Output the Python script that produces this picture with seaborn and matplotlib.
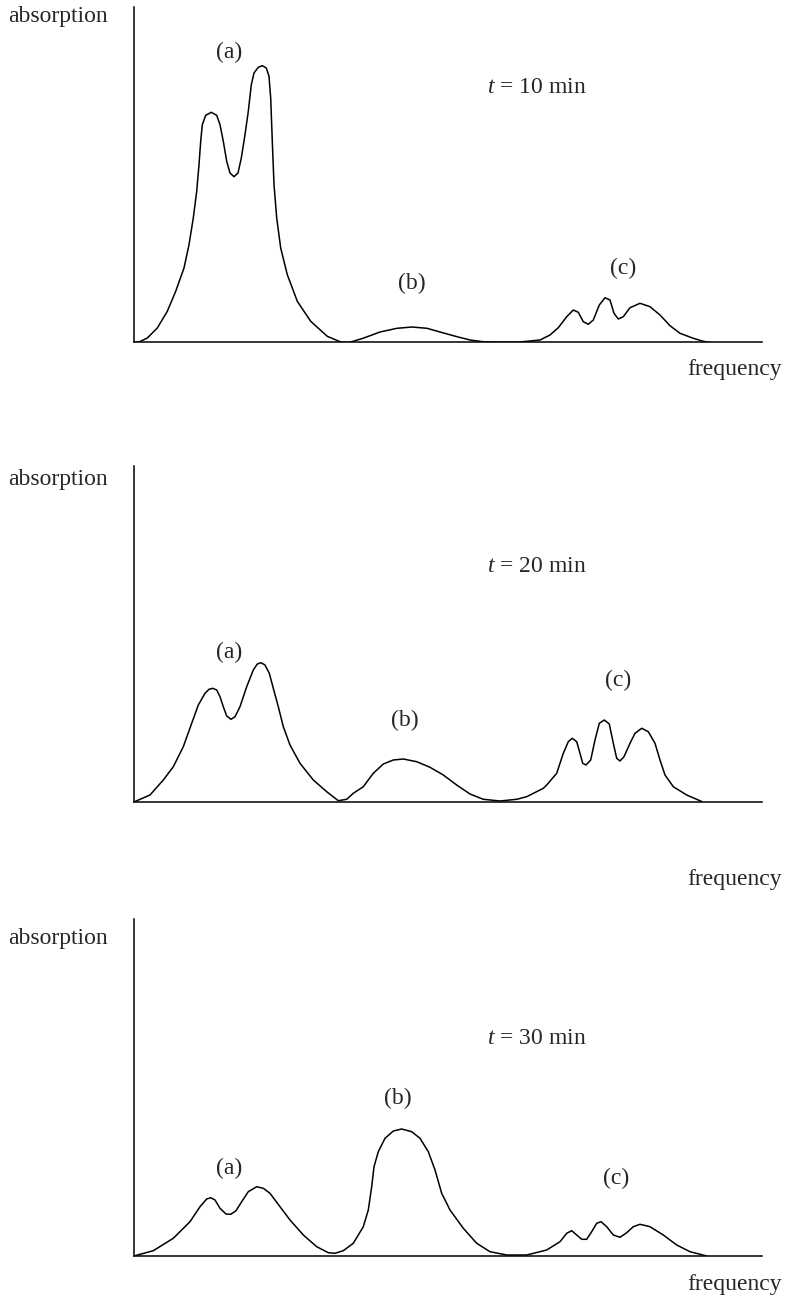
import matplotlib
matplotlib.use("Agg")
import matplotlib.pyplot as plt
import seaborn as sns
import pandas as pd

# ---- data (arbitrary units: frequency, absorption) ----
freq_10 = [1, 5, 13.3, 23.3, 33.3, 41.7, 50, 55, 59.3, 62.7, 65, 66.7, 68.3, 71.7, 77.3, 82.7,
           86, 89.3, 92.7, 96, 100, 104, 107.3, 111, 114.3, 117.3, 120, 124.3, 128.3, 132.3, 135,
           136.7, 138.3, 140, 142.7, 146.7, 153.3, 163.3, 176.7, 193.3, 206.7, 215, 229, 246, 263,
           278, 293, 306, 323, 336, 349, 363, 383, 396, 406, 416, 424.3, 432.7, 439.3, 444.3,
           449.3, 454.3, 459.3, 465.3, 471, 476, 480, 484.3, 489.3, 496, 506, 516, 526, 536, 546,
           559.3, 569.3, 576]
abs_10 = [0.3, 0.5, 4.5, 14.5, 31.2, 51.2, 74.5, 97.8, 124.5, 151.2, 177.8, 201.2, 217.8, 227.2,
          230.2, 227.2, 217.8, 201.2, 181.2, 169.5, 165.8, 169.5, 184.5, 207.8, 231.2, 257.8,
          269.5, 275.2, 276.8, 274.5, 266.2, 244.5, 201.2, 157.8, 124.5, 94.5, 67.8, 41.2, 21.2,
          6.2, 0.5, 0, 4.2, 10.5, 14.2, 15.5, 14.2, 10.5, 5.8, 2.5, 0.8, 0.3, 0.3, 1.5, 2.5, 7.5,
          14.8, 25.8, 32.5, 30.2, 20.8, 18.2, 22.5, 37.5, 44.8, 42.5, 29.2, 23.5, 25.8, 34.8,
          39.2, 35.8, 27.5, 16.8, 9.2, 4.2, 1.2, 0]

freq_20 = [1, 16, 29.3, 39.3, 49.3, 57.7, 64.3, 71, 75, 78.7, 82.7, 86, 89.3, 92.7, 97, 101, 106,
           112.7, 119.3, 123.3, 127, 131, 135.3, 139.3, 144.3, 149.3, 156, 166, 179.3, 192.7,
           204.3, 212.7, 219.3, 229.3, 239.3, 249.3, 259.3, 269.3, 282.7, 296, 309.3, 322.7, 336,
           349.3, 366, 382.7, 392.7, 409.3, 412.7, 422.7, 429.3, 434.3, 438.3, 442.7, 446, 448.7,
           452, 456.7, 461, 465.3, 470.3, 475.3, 479.3, 482.7, 486, 490, 496, 501, 507.7, 514.3,
           521, 526, 531, 539.3, 552.7, 567.7]
abs_20 = [0, 6.5, 21.5, 34.8, 54.8, 78.2, 96.5, 108.2, 112.2, 113.2, 111.5, 104.8, 94.8, 85.5,
          82.2, 84.8, 94.8, 114.8, 131.5, 137.5, 138.8, 136.5, 128.2, 113.2, 94.8, 74.8, 56.5,
          38.2, 21.5, 9.8, 0.8, 2.2, 8.2, 14.8, 28.2, 37.5, 41.5, 42.5, 39.8, 34.2, 26.5, 16.5,
          7.5, 2.2, 0.5, 2.2, 4.8, 13.2, 16.5, 28.2, 48.2, 59.8, 63.2, 59.8, 48.2, 38.2, 36.5,
          41.5, 61.5, 78.2, 81.5, 77.5, 58.2, 43.2, 40.5, 44.8, 58.2, 68.2, 73.2, 69.8, 58.2,
          41.5, 26.5, 14.8, 6.5, 0]

freq_30 = [1, 19.3, 39.3, 56, 66, 72.7, 76.7, 81, 86, 92, 96.7, 102, 107.7, 114.3, 122.7, 129.3,
           136, 146, 156, 169.3, 182.7, 194.3, 201, 209.3, 219.3, 229.3, 234.3, 237.7, 240, 244.3,
           251, 259.3, 267.7, 277.7, 286, 294.3, 301, 307.7, 316, 329.3, 342.7, 356, 372.7, 392.7,
           412.7, 426, 432.7, 437.7, 442.7, 447.7, 452.7, 457.7, 462.7, 467, 472.7, 479.3, 486,
           492.7, 499.3, 506, 516, 529.3, 542.7, 556, 572.7]
abs_30 = [0.3, 5.3, 17.7, 34.3, 49.3, 57, 58.3, 56, 47.7, 42, 41.7, 45.3, 54.3, 64.3, 69.3, 67.7,
          62.7, 49.3, 36, 21, 9.3, 3.3, 2.7, 5.3, 12.7, 29.3, 46, 69.3, 89.3, 104.3, 117.7, 125,
          127, 124.3, 117.7, 104.3, 86, 62.7, 46, 27.7, 12.7, 4.3, 1, 1, 6, 14.3, 22.7, 25.3, 21,
          16.7, 16.7, 24.3, 32.7, 34.3, 29.3, 21, 18.7, 23.3, 29.3, 31.7, 29.3, 21, 11, 4.3, 0]

times = ["10", "20", "30"]
peak_labels = ["(a)", "(b)", "(c)"]
y_label = "absorption"
x_label = "frequency"

# ---- layout (figure pixels) ----
W, H = 791, 1302
sns.set_style("white")
plt.rcParams["font.family"] = ["Liberation Serif", "DejaVu Serif"]
plt.rcParams["mathtext.fontset"] = "custom"
plt.rcParams["mathtext.rm"] = "Liberation Serif"
plt.rcParams["mathtext.it"] = "Liberation Serif:italic"

fig = plt.figure(figsize=(W / 100, H / 100), dpi=100)

def fx(x):
    return x / W

def fy(y):
    return 1 - y / H

panels = [
    dict(f=freq_10, a=abs_10, top=7, base=342.5, ylab=22, xlab=375, tlab=93,
         pk=[(229, 52), (412, 283), (623, 268)]),
    dict(f=freq_20, a=abs_20, top=466, base=801.5, ylab=485, xlab=885, tlab=572,
         pk=[(229, 652), (405, 720), (618, 680)]),
    dict(f=freq_30, a=abs_30, top=919, base=1256, ylab=944, xlab=1290, tlab=1044,
         pk=[(229, 1168), (398, 1098), (616, 1178)]),
]
left, right = 134, 762
fs = 17

for p, t in zip(panels, times):
    ax = fig.add_axes([fx(left), fy(p["base"]), (right - left) / W, (p["base"] - p["top"]) / H])
    df = pd.DataFrame({"frequency": p["f"], "absorption": p["a"]})
    sns.lineplot(data=df, x="frequency", y="absorption", ax=ax, color="black",
                 linewidth=1.1, estimator=None, sort=False, zorder=5,
                 solid_joinstyle="round", solid_capstyle="round")
    ax.set_xlim(0, right - left)
    ax.set_ylim(0, p["base"] - p["top"])
    ax.set_xticks([])
    ax.set_yticks([])
    ax.set_xlabel("")
    ax.set_ylabel("")
    for s in ["top", "right"]:
        ax.spines[s].set_visible(False)
    for s in ["left", "bottom"]:
        ax.spines[s].set_color("black")
        ax.spines[s].set_linewidth(1.1)
    ax.patch.set_alpha(0)

    fig.text(fx(8), fy(p["ylab"]), y_label, fontsize=fs, ha="left", va="baseline")
    fig.text(fx(782), fy(p["xlab"]), x_label, fontsize=fs, ha="right", va="baseline")
    fig.text(fx(487), fy(p["tlab"]), "$t$ = " + t + " min", fontsize=fs, ha="left", va="baseline")
    for lab, (x, y) in zip(peak_labels, p["pk"]):
        fig.text(fx(x), fy(y), lab, fontsize=fs, ha="center", va="center")

fig.savefig("out.png", dpi=100, facecolor="white")
